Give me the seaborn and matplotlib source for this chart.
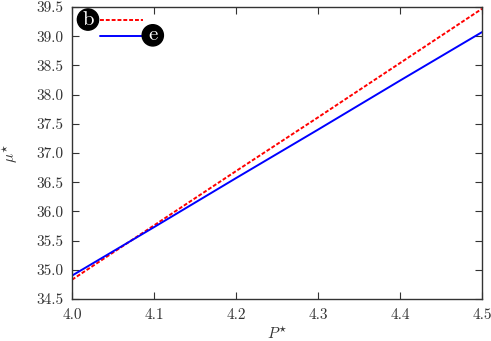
import numpy as np
import pandas as pd
import matplotlib
matplotlib.use("Agg")
import matplotlib.pyplot as plt
from matplotlib.lines import Line2D
from matplotlib.ticker import FormatStrFormatter, MultipleLocator
import seaborn as sns

# data
p_star = [4.0, 4.1, 4.2, 4.3, 4.4, 4.5]
mu_b = [34.83, 35.76, 36.69, 37.61, 38.54, 39.47]
mu_e = [34.90, 35.73, 36.57, 37.40, 38.24, 39.07]
xticks = [4.0, 4.1, 4.2, 4.3, 4.4, 4.5]
yticks = [34.5, 35.0, 35.5, 36.0, 36.5, 37.0, 37.5, 38.0, 38.5, 39.0, 39.5]

sns.set_style("ticks")
plt.rcParams["font.family"] = "serif"
plt.rcParams["font.serif"] = ["cmr10", "DejaVu Serif"]
plt.rcParams["mathtext.fontset"] = "cm"
plt.rcParams["axes.formatter.use_mathtext"] = True
plt.rcParams["axes.unicode_minus"] = False

df = pd.DataFrame({"P": p_star * 2, "mu": mu_b + mu_e,
                   "s": ["b"] * len(p_star) + ["e"] * len(p_star)})

fig = plt.figure(figsize=(4.91, 3.41), dpi=100)
ax = fig.add_axes([72 / 491, 42 / 341, 410 / 491, 292 / 341])

sns.lineplot(data=df[df.s == "b"], x="P", y="mu", ax=ax, color="#ff0000",
             linewidth=1.4, linestyle=(0, (2, 1)), legend=False)
sns.lineplot(data=df[df.s == "e"], x="P", y="mu", ax=ax, color="#0000ff",
             linewidth=1.4, legend=False)

ax.set_xlim(4.0, 4.5)
ax.set_ylim(34.5, 39.5)
ax.set_xticks(xticks)
ax.set_yticks(yticks)
ax.xaxis.set_major_formatter(FormatStrFormatter("%.1f"))
ax.yaxis.set_major_formatter(FormatStrFormatter("%.1f"))
ax.tick_params(direction="in", length=5, width=0.8, top=True, right=True,
               labelsize=11, colors="#333333", labelcolor="#333333")
ax.tick_params(axis="x", pad=7)
ax.tick_params(axis="y", pad=6)
for s in ax.spines.values():
    s.set_color("#333333")
    s.set_linewidth(1.0)
    s.set_visible(True)

ax.set_xlabel(r"$P^{\star}$", fontsize=11, color="#333333", labelpad=2)
ax.set_ylabel(r"$\mu^{\star}$", fontsize=11, color="#333333", labelpad=12)

# legend keys
ax.add_line(Line2D([0.068, 0.173], [0.955, 0.955], transform=ax.transAxes,
                   color="#ff0000", linewidth=1.4, linestyle=(0, (2, 1))))
ax.add_line(Line2D([0.068, 0.173], [0.901, 0.901], transform=ax.transAxes,
                   color="#0000ff", linewidth=1.4))
circ = dict(boxstyle="circle,pad=0.08", fc="black", ec="black")
ax.text(0.039, 0.957, "b", transform=ax.transAxes, ha="center", va="center",
        color="white", fontsize=15, bbox=circ)
ax.text(0.197, 0.903, "e", transform=ax.transAxes, ha="center", va="center",
        color="white", fontsize=15, bbox=circ)

fig.savefig("out.png", dpi=100)
